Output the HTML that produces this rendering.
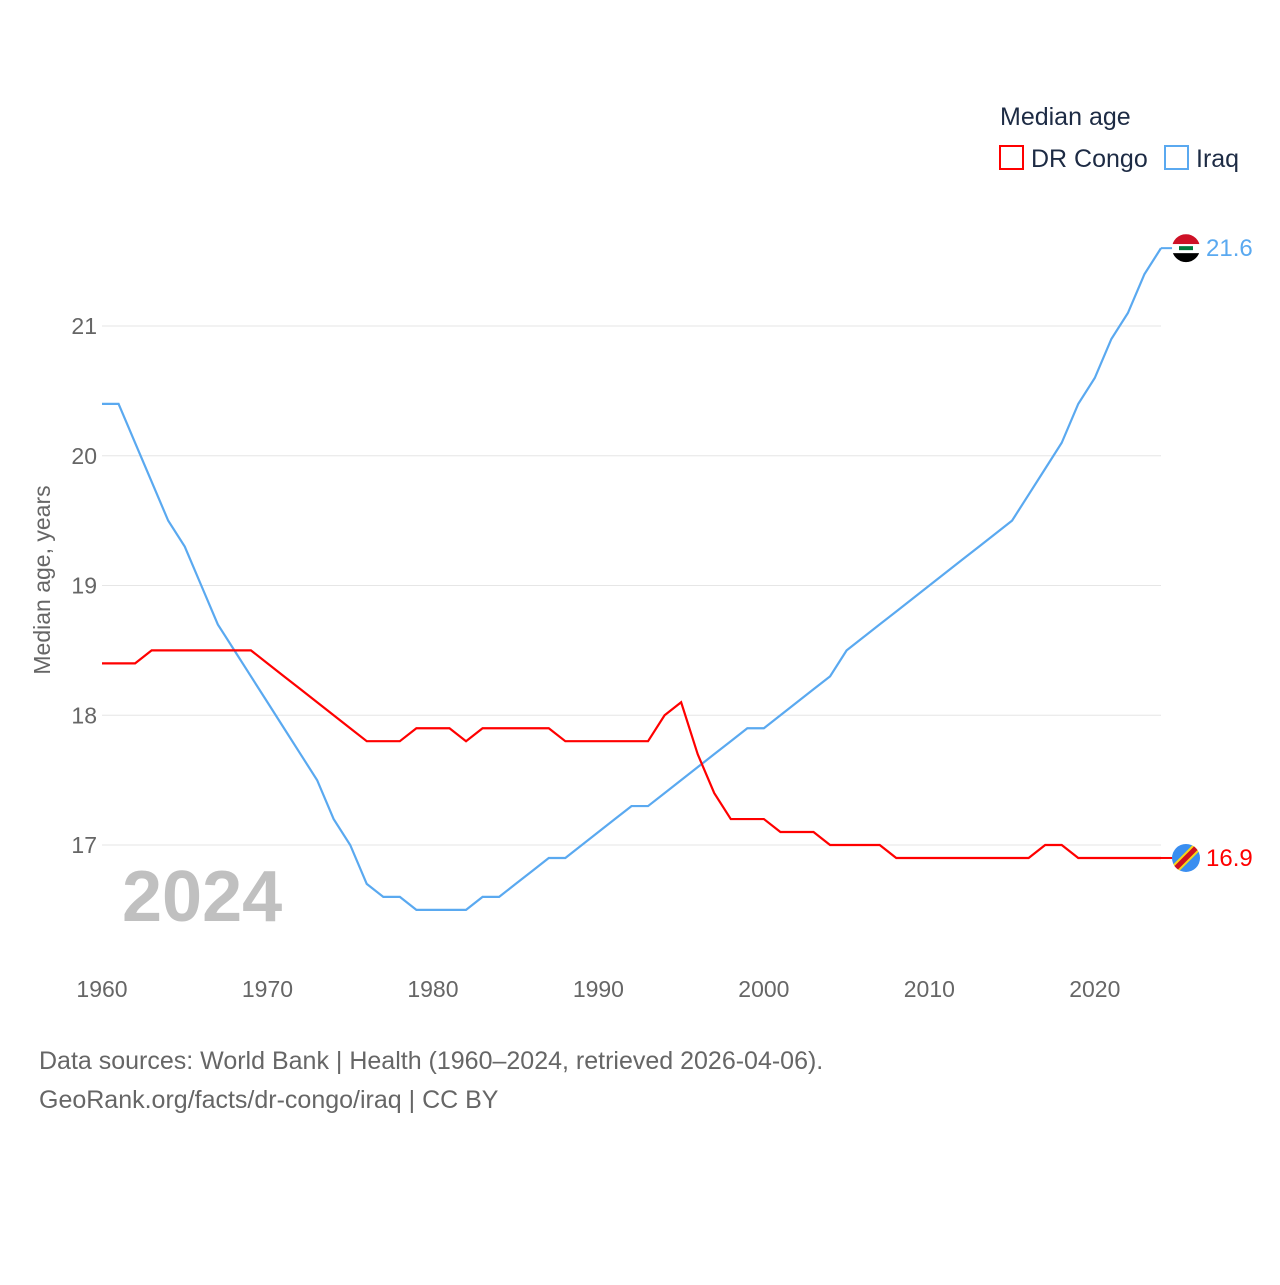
<!DOCTYPE html>
<html><head><meta charset="utf-8">
<style>
body{margin:0;background:#fff;font-family:"Liberation Sans",sans-serif;}
svg text{font-family:"Liberation Sans",sans-serif;}
</style></head>
<body>
<svg width="1280" height="1280" viewBox="0 0 1280 1280">
<text x="1000" y="125" font-size="25" fill="#1d2b44">Median age</text>
<g>
<rect x="1000" y="146" width="23" height="23" fill="none" stroke="#ff0000" stroke-width="2"/>
<text x="1031" y="167" font-size="25" fill="#1d2b44">DR Congo</text></g>
<g>
<rect x="1165" y="146" width="23" height="23" fill="none" stroke="#5aa9f0" stroke-width="2"/>
<text x="1196" y="167" font-size="25" fill="#1d2b44">Iraq</text></g>
<g id="grid"></g>
<g id="yticks"></g>
<g id="xticks"></g>
<text transform="translate(50,580) rotate(-90)" text-anchor="middle" font-size="23" fill="#666">Median age, years</text>
<text x="122" y="921" font-size="72" font-weight="bold" fill="#c0c0c0">2024</text>
<g id="lines"></g>
<text x="39" y="1069" font-size="25" fill="#666">Data sources: World Bank | Health (1960–2024, retrieved 2026-04-06).</text>
<text x="39" y="1108" font-size="25" fill="#666">GeoRank.org/facts/dr-congo/iraq | CC BY</text>
</svg>
<script>
const years=[];for(let y=1960;y<=2024;y++)years.push(y);
const iraq=[20.4,20.4,20.1,19.8,19.5,19.3,19.0,18.7,18.5,18.3,18.1,17.9,17.7,17.5,17.2,17.0,16.7,16.6,16.6,16.5,16.5,16.5,16.5,16.6,16.6,16.7,16.8,16.9,16.9,17.0,17.1,17.2,17.3,17.3,17.4,17.5,17.6,17.7,17.8,17.9,17.9,18.0,18.1,18.2,18.3,18.5,18.6,18.7,18.8,18.9,19.0,19.1,19.2,19.3,19.4,19.5,19.7,19.9,20.1,20.4,20.6,20.9,21.1,21.4,21.6];
const drc=[18.4,18.4,18.4,18.5,18.5,18.5,18.5,18.5,18.5,18.5,18.4,18.3,18.2,18.1,18.0,17.9,17.8,17.8,17.8,17.9,17.9,17.9,17.8,17.9,17.9,17.9,17.9,17.9,17.8,17.8,17.8,17.8,17.8,17.8,18.0,18.1,17.7,17.4,17.2,17.2,17.2,17.1,17.1,17.1,17.0,17.0,17.0,17.0,16.9,16.9,16.9,16.9,16.9,16.9,16.9,16.9,16.9,17.0,17.0,16.9,16.9,16.9,16.9,16.9,16.9];
const yTicks=[17,18,19,20,21];
const xTicks=[1960,1970,1980,1990,2000,2010,2020];
const NS="http://www.w3.org/2000/svg";
const X=y=>102+(y-1960)*(1161-102)/64;
const Y=v=>845-(v-17)*129.75;
function mk(t,a,p){const e=document.createElementNS(NS,t);for(const k in a)e.setAttribute(k,a[k]);p.appendChild(e);return e;}
const grid=document.getElementById('grid'),yt=document.getElementById('yticks'),xt=document.getElementById('xticks'),ln=document.getElementById('lines');
yTicks.forEach(v=>{
 const l=mk('line',{x1:102,x2:1161,y1:Y(v),y2:Y(v),stroke:'#e6e6e6','stroke-width':1},grid);
 
 
 const t=mk('text',{x:97,y:Y(v)+8,'text-anchor':'end','font-size':23,fill:'#666'},yt);t.textContent=v;
 
 
});
xTicks.forEach(v=>{
 const t=mk('text',{x:X(v),y:997,'text-anchor':'middle','font-size':23,fill:'#666'},xt);t.textContent=v;
 
 
});
function line(data,color,name){
 const p=mk('polyline',{points:data.map((v,i)=>X(years[i])+','+Y(v)).join(' '),fill:'none',stroke:color,'stroke-width':2.2},ln);
 
 
}
line(iraq,'#5aa9f0','iraq-line');
line(drc,'#ff0000','dr-congo-line');
function endLabel(data,color,name,flag){
 const v=data[data.length-1],x=X(2024),y=Y(v);
 const g=mk('g',{},ln);
 
 
 mk('line',{x1:x,x2:x+12,y1:y,y2:y,stroke:color,'stroke-width':2},g);
 if(flag==='iq'){
  mk('clipPath',{id:'c1'},g).appendChild(document.createElementNS(NS,'circle'));
  const c=g.lastChild.firstChild;c.setAttribute('cx',x+25);c.setAttribute('cy',y);c.setAttribute('r',14);
  mk('rect',{x:x+11,y:y-14,width:28,height:10,fill:'#ce1126','clip-path':'url(#c1)'},g);
  mk('rect',{x:x+11,y:y-4,width:28,height:9,fill:'#fff','clip-path':'url(#c1)'},g);
  mk('rect',{x:x+11,y:y+5,width:28,height:10,fill:'#000','clip-path':'url(#c1)'},g);
  mk('rect',{x:x+18,y:y-2,width:14,height:4,fill:'#007a3d'},g);
 } else {
  mk('clipPath',{id:'c2'},g).appendChild(document.createElementNS(NS,'circle'));
  const c=g.lastChild.firstChild;c.setAttribute('cx',x+25);c.setAttribute('cy',y);c.setAttribute('r',14);
  mk('circle',{cx:x+25,cy:y,r:14,fill:'#3a8ef0'},g);
  mk('line',{x1:x+11,y1:y+14,x2:x+39,y2:y-14,stroke:'#f7d618','stroke-width':9,'clip-path':'url(#c2)'},g);
  mk('line',{x1:x+11,y1:y+14,x2:x+39,y2:y-14,stroke:'#ce1021','stroke-width':5,'clip-path':'url(#c2)'},g);
 }
 const t=mk('text',{x:x+45,y:y+8,'font-size':24,fill:color},g);t.textContent=v.toFixed(1);
}
endLabel(iraq,'#5aa9f0','iraq-end-label','iq');
endLabel(drc,'#ff0000','dr-congo-end-label','cd');
</script>
</body></html>
